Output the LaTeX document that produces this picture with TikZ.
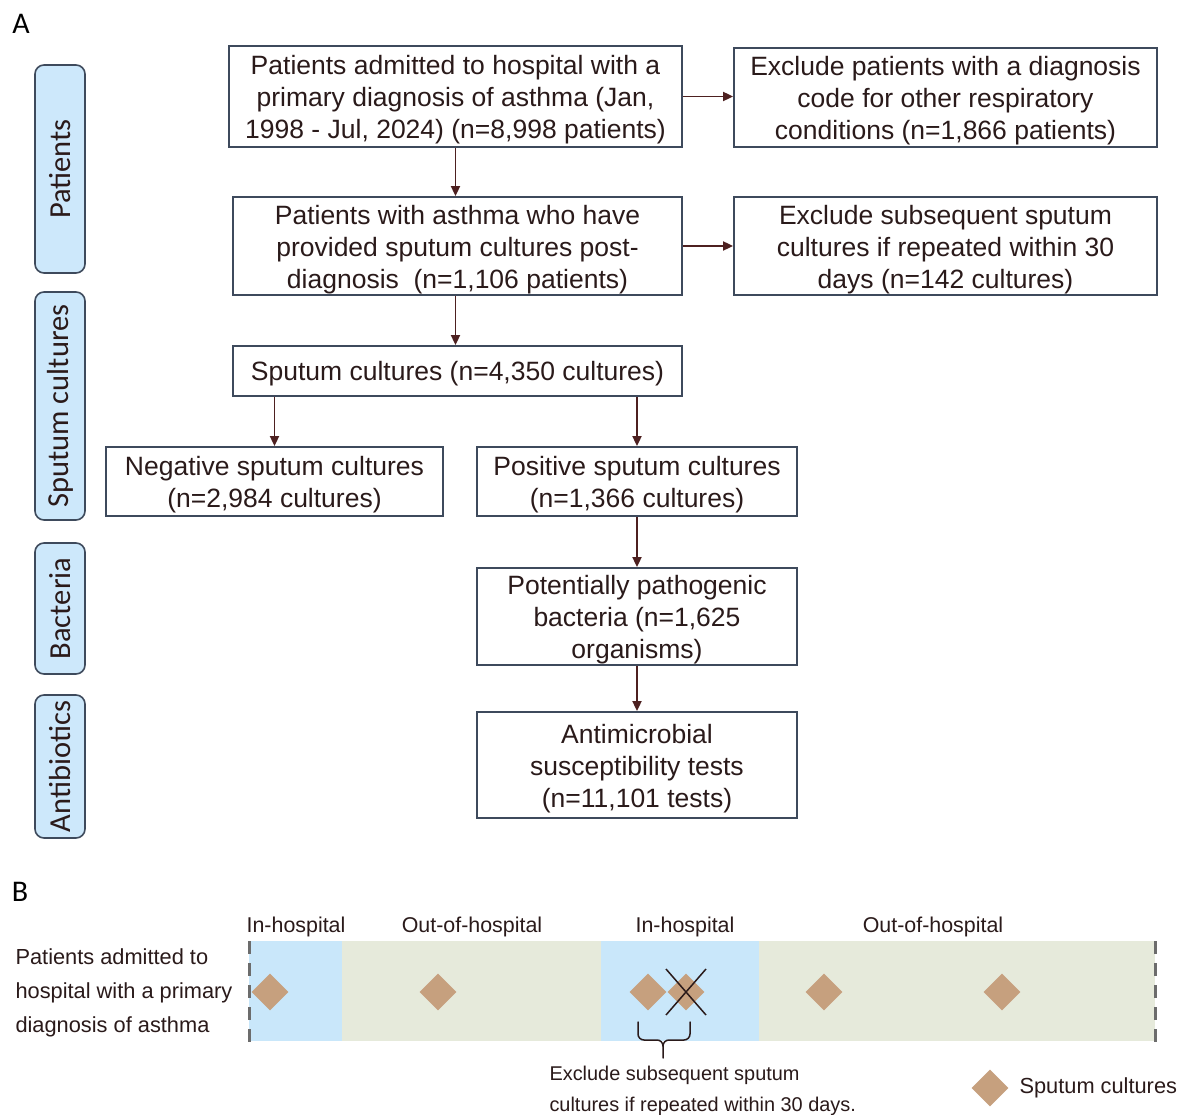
\documentclass[tikz,border=0pt]{standalone}
\usepackage{fontspec}
\setmainfont{Liberation Sans}
\newfontfamily\calib{Carlito}
\usetikzlibrary{arrows.meta,shapes.geometric}
\definecolor{boxline}{HTML}{3E4A5C}
\definecolor{txt}{HTML}{2A1A1A}
\definecolor{arr}{HTML}{4D2020}
\definecolor{sidefill}{HTML}{CDE8FB}
\definecolor{inblue}{HTML}{C9E7FA}
\definecolor{outgreen}{HTML}{E6EADB}
\definecolor{tan}{HTML}{C6A07E}
\begin{document}
\begin{tikzpicture}[x=1pt,y=-1pt,
  flowbox/.style={draw=boxline,line width=1.8pt,inner sep=0pt},
  flowtext/.style={inner sep=0pt,align=center,text=txt,yshift=-3.5pt,
    font=\fontsize{26.5}{32}\selectfont},
  sidebox/.style={draw=boxline,line width=1.6pt,fill=sidefill,rounded corners=9pt,rotate=90,
    inner sep=0pt,minimum height=50pt,text=txt,font=\calib\fontsize{30.5}{32}\selectfont},
  flowarrow/.style={draw=arr,line width=1.8pt,-{Triangle[length=10pt,width=9pt]}},
  culture/.style={shape=diamond,fill=tan,inner sep=0pt,minimum width=37pt,minimum height=37pt},
  zonelabel/.style={text=txt,font=\fontsize{21.4}{24}\selectfont},
  btext/.style={text=txt,align=left,font=\fontsize{21.8}{34}\selectfont},
  paneltag/.style={text=black,font=\calib\fontsize{30}{32}\selectfont}]
\useasboundingbox (0,0) rectangle (1179,1115);
\fill[white] (0,0) rectangle (1179,1115);

% panel tags
\node[paneltag] (tagA) at (21,24) {A};
\node[paneltag] (tagB) at (20,892) {B};

% side labels
\node[sidebox,minimum width=208pt] (sPat) at (60,169) {Patients};
\node[sidebox,minimum width=228pt] (sSpu) at (60,406) {Sputum cultures};
\node[sidebox,minimum width=131pt] (sBac) at (60,608.5) {Bacteria};
\node[sidebox,minimum width=143pt] (sAnt) at (60,766.5) {Antibiotics};

% flow boxes
\node[flowbox,minimum width=453pt,minimum height=101pt,
  label={[flowtext]center:{Patients admitted to hospital with a\\primary diagnosis of asthma (Jan,\\1998 - Jul, 2024) (n=8,998 patients)}}] (b1) at (455.5,96.5) {};
\node[flowbox,minimum width=423pt,minimum height=99pt,
  label={[flowtext]center:{Exclude patients with a diagnosis\\code for other respiratory\\conditions (n=1,866 patients)}}] (b2) at (945.5,97.5) {};
\node[flowbox,minimum width=449pt,minimum height=98pt,
  label={[flowtext]center:{Patients with asthma who have\\provided sputum cultures post-\\diagnosis\ \ (n=1,106 patients)}}] (b3) at (457.5,246) {};
\node[flowbox,minimum width=423pt,minimum height=98pt,
  label={[flowtext]center:{Exclude subsequent sputum\\cultures if repeated within 30\\days (n=142 cultures)}}] (b4) at (945.5,246) {};
\node[flowbox,minimum width=449pt,minimum height=50pt,
  label={[flowtext,yshift=1pt]center:{Sputum cultures (n=4,350 cultures)}}] (b5) at (457.5,371) {};
\node[flowbox,minimum width=337pt,minimum height=69pt,
  label={[flowtext]center:{Negative sputum cultures\\(n=2,984 cultures)}}] (neg) at (274.5,481.5) {};
\node[flowbox,minimum width=320pt,minimum height=69pt,
  label={[flowtext]center:{Positive sputum cultures\\(n=1,366 cultures)}}] (pos) at (637,481.5) {};
\node[flowbox,minimum width=320pt,minimum height=97pt,
  label={[flowtext]center:{Potentially pathogenic\\bacteria (n=1,625\\organisms)}}] (bac) at (637,616.5) {};
\node[flowbox,minimum width=320pt,minimum height=106pt,
  label={[flowtext]center:{Antimicrobial\\susceptibility tests\\(n=11,101 tests)}}] (ast) at (637,765) {};

% connectors
\draw[flowarrow] (b1.east) -- (b1.east -| b2.west);
\draw[flowarrow] (b3.east) -- (b3.east -| b4.west);
\draw[flowarrow] (b1.south) -- (b1.south |- b3.north);
\draw[flowarrow] (b3.south -| b1.south) -- (b1.south |- b5.north);
\draw[flowarrow] (b5.south -| neg.north) -- (neg.north);
\draw[flowarrow] (b5.south -| pos.north) -- (pos.north);
\draw[flowarrow] (pos.south) -- (bac.north);
\draw[flowarrow] (bac.south) -- (ast.north);

% ---------- panel B ----------
\fill[inblue] (249,941) rectangle (342,1041);
\fill[outgreen] (342,941) rectangle (601,1041);
\fill[inblue] (601,941) rectangle (759,1041);
\fill[outgreen] (759,941) rectangle (1155,1041);
\draw[gray!85!black,line width=3pt,dash pattern=on 13pt off 9pt] (249,941) -- (249,1043);
\draw[gray!85!black,line width=3pt,dash pattern=on 13pt off 9pt] (1155,941) -- (1155,1043);

\node[zonelabel] (z1) at (296,927) {In-hospital};
\node[zonelabel] (z2) at (472,927) {Out-of-hospital};
\node[zonelabel] (z3) at (685,927) {In-hospital};
\node[zonelabel] (z4) at (933,927) {Out-of-hospital};

\node[btext,anchor=west] (pt) at (12,993) {Patients admitted to\\hospital with a primary\\diagnosis of asthma};

\node[culture] (d1) at (270,992) {};
\node[culture] (d2) at (438,992) {};
\node[culture] (d3) at (648,992) {};
\node[culture] (d4) at (686,992) {};
\node[culture] (d5) at (824,992) {};
\node[culture] (d6) at (1002,992) {};
\draw[txt,line width=1.5pt] ([shift={(-20,-23)}]d4.center) -- ([shift={(20,23)}]d4.center);
\draw[txt,line width=1.5pt] ([shift={(20,-23)}]d4.center) -- ([shift={(-20,23)}]d4.center);

% brace
\coordinate (brL) at (638,1022);
\coordinate (brR) at (690,1022);
\coordinate (brM) at (663,1058);
\draw[txt,line width=1.5pt,line cap=round]
  (brL) -- (638,1034) to[out=-90,in=180] (644,1040) -- (657,1040) to[out=0,in=90] (brM |- 0,1046) -- (brM);
\draw[txt,line width=1.5pt,line cap=round]
  (brR) -- (690,1034) to[out=-90,in=0] (684,1040) -- (669,1040) to[out=180,in=90] (brM |- 0,1046);

\node[btext,anchor=north west,font=\fontsize{19.9}{31}\selectfont] (excl) at (546,1063)
  {Exclude subsequent sputum\\cultures if repeated within 30 days.};

\node[culture] (legd) at (990,1088) {};
\node[zonelabel,anchor=west,font=\fontsize{21.8}{24}\selectfont] (legt) at (1016,1088) {Sputum cultures};
\end{tikzpicture}
\end{document}
